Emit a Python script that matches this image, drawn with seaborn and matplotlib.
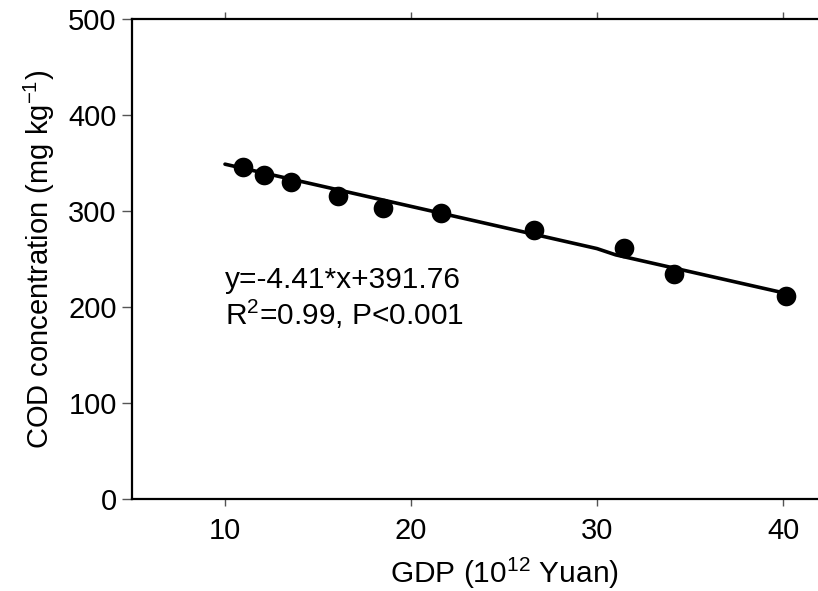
import matplotlib
matplotlib.use("Agg")
import matplotlib.pyplot as plt
import seaborn as sns
import pandas as pd

# points
gdp = [10.95, 12.08, 13.57, 16.06, 18.50, 21.61, 26.59, 31.43, 34.12, 40.14]
cod = [345.9, 337.2, 330.6, 316.3, 303.0, 297.9, 280.0, 261.9, 234.1, 211.9]

# fitted line as drawn (slight kink near 30)
fit_x = [10, 30, 31, 40]
fit_y = [349.0, 261.0, 254.5, 215.0]

x_ticks = [10, 20, 30, 40]
y_ticks = [0, 100, 200, 300, 400, 500]

pts = pd.DataFrame({"gdp": gdp, "cod": cod})
fit = pd.DataFrame({"x": fit_x, "y": fit_y})

sns.set_theme(style="ticks")
plt.rcParams["font.family"] = ["Liberation Sans", "DejaVu Sans"]
plt.rcParams["mathtext.fontset"] = "custom"
plt.rcParams["mathtext.rm"] = "Liberation Sans"
plt.rcParams["mathtext.it"] = "Liberation Sans"
plt.rcParams["text.color"] = "black"
plt.rcParams["axes.labelcolor"] = "black"

fig = plt.figure(figsize=(8.18, 5.91), dpi=100)
ax = fig.add_axes([132 / 818, 92 / 591, 744 / 818, 479.7 / 591])

sns.lineplot(data=fit, x="x", y="y", ax=ax, color="black", linewidth=2.6, sort=False)
sns.scatterplot(data=pts, x="gdp", y="cod", ax=ax, color="black", s=200,
                edgecolor="black", linewidth=0, zorder=3)

ax.set_xlim(5, 45)
ax.set_ylim(0, 500)
ax.set_xticks(x_ticks)
ax.set_yticks(y_ticks)
ax.tick_params(axis="both", labelsize=21, labelcolor="black", length=5, width=1,
               direction="out", pad=5)
ax.tick_params(axis="x", top=True, color="#555555", pad=8)
ax.tick_params(axis="y", color="#555555", length=7, pad=4)

for side in ["left", "bottom", "top"]:
    ax.spines[side].set_linewidth(1.6)
    ax.spines[side].set_color("black")
ax.spines["right"].set_visible(False)

ax.set_xlabel("GDP (10$^{12}$ Yuan)", fontsize=21.5, labelpad=8, color="black")
ax.set_ylabel("COD concentration (mg kg$^{-1}$)", fontsize=21, labelpad=8, color="black")

ax.text(10, 220, "y=-4.41*x+391.76", fontsize=21.5, ha="left", va="baseline", color="black")
ax.text(10, 181, "R$^2$=0.99, P<0.001", fontsize=21.5, ha="left", va="baseline", color="black")

fig.savefig("out.png", dpi=100)
